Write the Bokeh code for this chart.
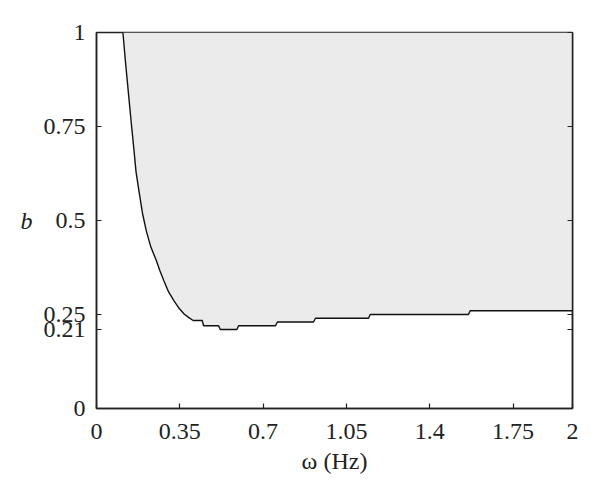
from bokeh.plotting import figure
from bokeh.models import Range1d, FixedTicker, CustomJSTickFormatter, LinearAxis
from bokeh.embed import file_html
from bokeh.resources import INLINE

# Boundary curve (omega in Hz, b)
omega = [0.111, 0.122, 0.134, 0.146, 0.157, 0.166, 0.178, 0.193, 0.209, 0.228, 0.251,
         0.266, 0.283, 0.303, 0.325, 0.345, 0.367, 0.385, 0.406, 0.444, 0.450,
         0.513, 0.520, 0.590, 0.597, 0.752, 0.760, 0.912, 0.920, 1.143, 1.150,
         1.563, 1.570, 2.0]
b_vals = [1.0, 0.92, 0.84, 0.76, 0.69, 0.63, 0.58, 0.52, 0.473, 0.43, 0.394,
          0.367, 0.34, 0.31, 0.287, 0.268, 0.252, 0.243, 0.234, 0.234, 0.22,
          0.22, 0.21, 0.21, 0.22, 0.22, 0.23, 0.23, 0.24, 0.24, 0.25,
          0.25, 0.26, 0.26]
x_ticks = [0, 0.35, 0.7, 1.05, 1.4, 1.75, 2]
y_ticks = [0, 0.21, 0.25, 0.5, 0.75, 1]

FONT = "Liberation Serif"

p = figure(width=592, height=490, output_backend="svg", toolbar_location=None,
           x_range=Range1d(0, 2), y_range=Range1d(0, 1),
           min_border_left=96, min_border_right=20, min_border_top=32,
           min_border_bottom=82)
p.xgrid.visible = False
p.ygrid.visible = False
p.outline_line_color = "#222222"
p.outline_line_width = 1.5
p.background_fill_color = "white"

p.varea(x=omega, y1=b_vals, y2=[1.0] * len(omega), fill_color="#ebebeb")
p.line(omega, b_vals, line_color="#111111", line_width=1.4)

fmt = CustomJSTickFormatter(code="return tick.toString();")

for ax in (p.xaxis[0], p.yaxis[0]):
    ax.major_tick_in = 5
    ax.major_tick_out = 0
    ax.minor_tick_in = 0
    ax.minor_tick_out = 0
    ax.axis_line_color = "#222222"
    ax.axis_line_width = 1.5
    ax.major_tick_line_color = "#222222"
    ax.major_tick_line_width = 1.2
    ax.major_label_text_font = FONT
    ax.major_label_text_font_size = "24px"
    ax.major_label_text_color = "#222222"
    ax.axis_label_text_font = FONT
    ax.axis_label_text_font_size = "24px"
    ax.axis_label_text_color = "#222222"
    ax.formatter = fmt

p.xaxis[0].ticker = FixedTicker(ticks=x_ticks)
p.yaxis[0].ticker = FixedTicker(ticks=y_ticks)
p.xaxis[0].axis_label = "ω (Hz)"
p.xaxis[0].axis_label_text_font_style = "normal"
p.xaxis[0].major_label_standoff = 15
p.xaxis[0].axis_label_standoff = 6
p.yaxis[0].axis_label = "b"
p.yaxis[0].axis_label_text_font_style = "italic"
p.yaxis[0].axis_label_orientation = "horizontal"
p.yaxis[0].major_label_standoff = 11
p.yaxis[0].axis_label_standoff = 8

right = LinearAxis(ticker=FixedTicker(ticks=y_ticks),
                   formatter=CustomJSTickFormatter(code="return '';"))
right.major_tick_in = 5
right.major_tick_out = 0
right.minor_tick_in = 0
right.minor_tick_out = 0
right.axis_line_color = "#222222"
right.axis_line_width = 1.5
right.major_tick_line_color = "#222222"
right.major_tick_line_width = 1.2
right.major_label_text_font_size = "1px"
p.add_layout(right, "right")

open("out.html", "w").write(file_html(p, INLINE))
